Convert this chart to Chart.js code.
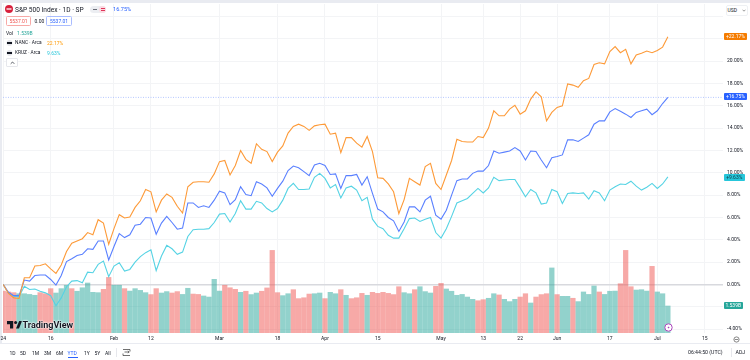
<!DOCTYPE html>
<html><head><meta charset="utf-8">
<script src="https://cdn.jsdelivr.net/npm/chart.js@4"></script>
<style>
html,body{margin:0;padding:0;background:#fff;overflow:hidden}
#wrap{position:relative;width:750px;height:360px;font-family:Roboto,"Liberation Sans",sans-serif;color:#131722;filter:blur(.3px)}
canvas{position:absolute;left:0;top:0}
.t{position:absolute;white-space:nowrap;line-height:1;font-size:5px;transform:translateY(-50%)}
.b{position:absolute;box-sizing:border-box}
.badge{position:absolute;left:724px;height:7px;line-height:7px;font-size:5px;text-align:center;border-radius:1px;color:#fff}
</style></head><body>
<div id="wrap">
<div class="b" style="left:0;top:0;width:750px;height:3px;background:#e9ebf1"></div>
<div class="b" style="left:0;top:0;width:2px;height:343px;background:#e9ebf1"></div>
<div class="b" style="left:0;top:343px;width:750px;height:1px;background:#e9ebf1"></div>
<canvas id="c" width="750" height="360"></canvas>

<svg class="b" style="left:5px;top:5px" width="8" height="8"><circle cx="4" cy="4" r="4" fill="#d8203c"/><rect x="1.5" y="3.2" width="5" height="1.6" fill="#fff" opacity=".8"/></svg>
<div class="t" style="left:15px;top:9.5px;font-size:6.6px">S&amp;P 500 Index · 1D · SP</div>
<div class="b" style="left:90px;top:6px;width:16px;height:7px;border-radius:3.5px;background:#eceef2"></div>
<div class="b" style="left:99px;top:6px;width:7px;height:7px;border-radius:3.5px;background:#fbdbe2"></div>
<div class="b" style="left:93px;top:9px;width:4px;height:1px;background:#6a6d78"></div>
<div class="b" style="left:100.5px;top:8px;width:4px;height:3px;border-top:1px solid #e0365a;border-bottom:1px solid #e0365a"></div>
<div class="t" style="left:113px;top:9.5px;font-size:5.6px;color:#2962ff">16.75%</div>

<div class="b" style="left:6px;top:16px;width:25px;height:10px;border:1px solid #f7a9a7;border-radius:1.5px"></div>
<div class="t" style="left:9.5px;top:21px;color:#ef5350">5537.01</div>
<div class="t" style="left:34.5px;top:21px">0.00</div>
<div class="b" style="left:46px;top:16px;width:26px;height:10px;border:1px solid #a9bcff;border-radius:1.5px"></div>
<div class="t" style="left:50px;top:21px;color:#2962ff">5537.01</div>

<div class="t" style="left:6px;top:32.5px">Vol</div>
<div class="t" style="left:17px;top:32.5px;color:#26a69a">1.539B</div>

<svg class="b" style="left:6px;top:39.5px" width="7" height="6"><circle cx="3.5" cy="3" r="3" fill="#e6e7ec"/><rect x="1" y="2" width="5" height="2" fill="#131722"/></svg>
<div class="t" style="left:15px;top:42.5px;font-size:4.8px">NANC · Arca</div>
<div class="t" style="left:47px;top:42.5px;color:#ff9800">22.17%</div>
<svg class="b" style="left:6px;top:49.5px" width="7" height="6"><circle cx="3.5" cy="3" r="3" fill="#e6e7ec"/><rect x="1" y="2" width="5" height="2" fill="#131722"/></svg>
<div class="t" style="left:15px;top:52.5px;font-size:4.8px">KRUZ · Arca</div>
<div class="t" style="left:47px;top:52.5px;color:#26c6da">9.63%</div>
<div class="b" style="left:6px;top:58px;width:12px;height:9px;border:1px solid #e6e7ec;background:#fff;border-radius:1px"></div>
<svg class="b" style="left:9.5px;top:60.5px" width="5" height="4"><path d="M.7 2.8 2.5 1 4.3 2.8" fill="none" stroke="#131722" stroke-width=".7"/></svg>

<div class="b" style="left:725.5px;top:5px;width:22px;height:10.5px;background:#fff;border:1px solid #eef0f3;border-radius:2px"></div>
<div class="t" style="left:727.5px;top:10.3px">USD</div>
<svg class="b" style="left:742px;top:8.5px" width="4" height="3"><path d="M.5 .7 2 2.2 3.5 .7" fill="none" stroke="#555" stroke-width=".6"/></svg>

<div class="badge" style="top:32.5px;width:23px;background:#f57c00">+22.17%</div>
<div class="badge" style="top:93px;width:23px;background:#2962ff">+16.75%</div>
<div class="badge" style="top:173.5px;width:20.5px;background:#26c6da;color:#0f3b44">+9.63%</div>
<div class="badge" style="top:302px;width:18.5px;background:#26a69a">1.539B</div>

<svg class="b" style="left:6.5px;top:320.5px" width="15" height="8"><path d="M0 0h6.2v7.6H3V3.2H0zM12.2 0h2.8l-3 7.6H9z" fill="#131722"/><circle cx="8.6" cy="1.6" r="1.5" fill="#131722"/></svg>
<div class="t" style="left:22.5px;top:324.5px;font-size:9px;font-weight:700;text-shadow:0 0 1.5px #fff,0 0 1.5px #fff,0 0 2px #fff">TradingView</div>

<svg class="b" style="left:664px;top:323px" width="9" height="9"><circle cx="4.5" cy="4.5" r="3.7" fill="#fff" stroke="#ab47bc" stroke-width="1"/><path d="M5.2 2.4 3.4 4.9H4.6L3.9 6.6 5.7 4H4.5z" fill="#ab47bc"/></svg>
<svg class="b" style="left:733px;top:336px" width="7" height="7"><circle cx="3.5" cy="3.5" r="2.6" fill="none" stroke="#555" stroke-width=".7"/><path d="M1.8 3.5h3.4" stroke="#555" stroke-width=".7"/></svg>

<div class="t" style="left:9.5px;top:352.5px">1D</div>
<div class="t" style="left:20px;top:352.5px">5D</div>
<div class="t" style="left:32px;top:352.5px">1M</div>
<div class="t" style="left:44px;top:352.5px">3M</div>
<div class="t" style="left:56px;top:352.5px">6M</div>
<div class="t" style="left:67.5px;top:352.5px;color:#2962ff">YTD</div>
<div class="b" style="left:67.5px;top:357px;width:10px;height:1px;background:#2962ff"></div>
<div class="t" style="left:84px;top:352.5px">1Y</div>
<div class="t" style="left:94.5px;top:352.5px">5Y</div>
<div class="t" style="left:105px;top:352.5px">All</div>
<div class="b" style="left:116px;top:348px;width:1px;height:9px;background:#e6e7ec"></div>
<svg class="b" style="left:122px;top:348px" width="9" height="9"><path d="M1 1.5h7v2M8 7.5H1v-2M2.5 4H7M6 2.8 7.2 4 6 5.2" fill="none" stroke="#333" stroke-width=".7"/></svg>
<div class="t" style="left:688px;top:352.5px;font-size:5.2px">06:44:50 (UTC)</div>
<div class="b" style="left:731px;top:348px;width:1px;height:9px;background:#e6e7ec"></div>
<div class="t" style="left:735.5px;top:352.5px;font-size:5.2px">ADJ</div>
</div>
<script>
const sp500 = [0,-0.7,-1.0,-1.0,0.4,0.3,0.8,0.85,0.85,0.45,
-0.05,0.8,2.05,2.3,2.6,2.7,3.2,3.15,3.9,3.9,
2.2,3.4,4.55,4.2,4.45,5.3,5.4,6.0,5.95,4.5,
5.5,6.1,5.55,4.95,5.05,7.3,7.3,6.9,7.05,6.9,
7.55,8.35,8.2,7.15,7.6,8.75,8.05,7.95,9.2,9.0,
8.65,7.9,8.6,9.25,10.2,10.6,10.45,10.1,9.75,10.7,
10.85,10.65,9.85,9.9,8.6,9.75,9.75,9.85,8.9,9.65,
8.15,6.75,6.5,6.0,5.7,4.75,5.6,6.95,6.95,6.5,
7.55,7.9,6.2,5.85,6.65,8.0,9.3,9.45,9.45,9.95,
10.15,10.15,10.65,11.95,11.75,11.85,11.95,12.25,11.95,11.15,
11.95,11.9,11.15,10.45,11.35,11.45,11.6,12.95,12.95,12.8,
13.1,13.4,14.35,14.65,14.65,15.45,15.75,15.5,15.25,14.95,
15.4,15.55,15.7,15.2,15.55,16.2,16.75];
const nanc = [0,-0.8,-1.2,-1.25,0.6,0.6,1.65,1.7,1.85,1.4,
1.0,1.75,2.95,3.7,3.9,4.1,4.65,4.45,5.8,5.5,
3.6,5.0,6.25,5.95,6.05,6.9,7.5,8.5,8.3,6.5,
7.55,8.1,7.8,7.0,6.4,8.75,9.15,9.2,9.2,9.15,
9.9,11.0,11.1,9.8,10.65,12.0,11.2,10.85,12.6,12.1,
11.9,11.0,11.85,12.4,13.55,14.15,14.35,14.15,13.8,14.2,
14.3,14.35,13.45,13.55,11.8,13.15,13.15,12.65,12.3,13.25,
11.9,9.55,9.5,9.0,8.3,6.35,7.6,9.5,9.2,8.9,
10.55,10.85,9.05,8.5,9.8,11.1,13.0,12.8,12.75,12.75,
13.25,13.15,14.0,15.55,15.1,15.1,15.7,16.05,15.25,15.55,
16.6,17.25,16.8,14.65,15.4,15.85,16.0,17.95,17.85,17.65,
18.25,18.45,19.7,19.85,19.75,20.85,21.3,20.75,21.05,19.75,
20.55,20.7,20.9,20.75,20.95,21.25,22.17];
const kruz = [0,-0.8,-1.05,-1.1,-0.15,-0.45,-0.4,-0.6,-0.75,-1.0,
-1.9,-1.2,-0.2,0.3,0.35,0.15,1.1,1.05,1.8,2.1,
0.7,1.65,1.95,1.2,1.35,2.0,2.5,2.85,3.1,1.25,
2.55,3.5,3.2,2.7,2.9,4.3,4.9,4.95,4.95,5.0,
5.55,6.3,6.35,5.6,6.35,7.5,6.75,6.75,7.45,7.3,
6.8,6.5,6.8,7.55,8.6,9.05,8.5,8.5,8.55,9.6,
9.95,9.5,8.65,8.95,7.75,8.65,8.8,8.45,7.5,7.8,
5.85,5.2,5.0,4.4,4.15,4.15,5.0,5.9,5.95,5.65,
5.85,6.0,4.65,4.15,5.0,6.1,7.3,7.5,7.7,8.15,
8.6,8.2,8.65,9.6,9.3,9.35,9.4,9.4,8.65,7.85,
8.5,8.2,7.2,7.3,8.5,8.3,7.25,8.15,8.2,8.15,
8.2,7.65,8.4,8.2,7.5,8.45,8.75,9.0,8.95,9.25,
8.8,8.45,8.7,9.05,8.6,9.0,9.63];
const volume = [2.39,2.34,2.30,2.24,2.24,2.20,2.15,2.30,2.24,2.53,
2.28,2.53,2.72,2.53,2.38,2.58,2.85,2.32,2.30,2.49,
3.17,2.72,2.72,2.53,2.39,2.53,2.43,2.30,2.19,2.53,
2.28,2.36,2.28,2.36,2.20,2.55,2.22,2.20,2.11,2.05,
3.06,2.39,2.72,2.58,2.49,2.32,2.38,2.19,2.28,2.38,
2.57,4.71,2.30,2.13,2.24,2.47,1.96,2.01,2.22,2.24,
2.28,1.96,2.32,2.24,2.47,2.15,1.96,2.01,2.26,2.15,
2.32,2.26,2.32,2.26,2.19,2.64,2.30,2.24,2.47,2.64,
2.36,2.28,2.66,2.83,2.51,2.38,2.15,2.20,2.05,1.92,
1.84,1.90,1.98,2.24,2.17,1.92,1.79,1.92,2.05,2.24,
1.71,2.05,2.19,2.24,3.71,2.19,2.09,2.09,1.98,1.79,
2.34,2.20,2.68,2.34,2.20,2.38,2.39,2.81,4.71,2.64,
2.45,2.47,2.39,3.80,2.34,2.24,1.54];
const downDays = [0,1,2,7,8,9,13,19,20,23,28,29,32,33,36,37,42,43,44,46,49,50,51,52,55,56,57,58,61,64,66,67,68,70,71,72,73,74,75,78,82,83,90,91,94,98,99,101,102,103,105,108,113,117,118,119,123];
const dayTicks = [0,9,21,28,41,52,61,71,83,91,98,105,115,124,133];
const dayLabels = ['24','16','Feb','12','Mar','18','Apr','15','May','13','22','Jun','17','Jul','15'];
const pctTicks = [-4,-2,0,2,4,6,8,10,12,14,16,18,20,22,24];
const hiddenPctLabels = [-2,22,24];
const lastClose = 16.75;

const xMin = -0.04, xMax = 136.45;
const pts = a => a.map((y,x)=>({x,y}));
const FONT = {family:'Roboto, "Liberation Sans", sans-serif', size:5};
new Chart(document.getElementById('c'),{
  data:{datasets:[
    {type:'line',data:[{x:xMin,y:lastClose},{x:xMax,y:lastClose}],borderColor:'#b4c6ff',borderWidth:1,borderDash:[1,1.5],pointRadius:0,yAxisID:'y',order:4},
    {type:'line',data:pts(kruz),borderColor:'#55d3e4',borderWidth:1.1,pointRadius:0,tension:0,yAxisID:'y',order:3},
    {type:'line',data:pts(sp500),borderColor:'#5a80ff',borderWidth:1.1,pointRadius:0,tension:0,yAxisID:'y',order:2},
    {type:'line',data:pts(nanc),borderColor:'#fd9a38',borderWidth:1.1,pointRadius:0,tension:0,yAxisID:'y',order:1},
    {type:'bar',data:pts(volume),backgroundColor:volume.map((v,i)=>downDays.includes(i)?'rgba(239,83,80,.5)':'rgba(38,166,154,.5)'),barThickness:4.6,yAxisID:'v',order:5}
  ]},
  options:{
    responsive:false,animation:false,devicePixelRatio:1,
    events:[],
    layout:{padding:{left:3,top:4,right:0,bottom:17}},
    plugins:{legend:{display:false},tooltip:{enabled:false}},
    scales:{
      x:{type:'linear',offset:false,min:xMin,max:xMax,
        afterBuildTicks:s=>{s.ticks=dayTicks.map(value=>({value}))},
        afterFit:s=>{s.height=10;s.paddingLeft=0;s.paddingRight=0},
        border:{display:false},
        grid:{offset:false,color:'#f3f4f6',lineWidth:1,drawTicks:false},
        ticks:{autoSkip:false,maxRotation:0,padding:3,color:'#131722',font:FONT,
          callback:v=>dayLabels[dayTicks.indexOf(v)]}},
      y:{type:'linear',position:'right',min:-4.342,max:25.11,
        afterBuildTicks:s=>{s.ticks=pctTicks.map(value=>({value}))},
        afterFit:s=>{s.width=27;s.paddingTop=0;s.paddingBottom=0},
        border:{display:false},
        grid:{color:c=>c.tick&&c.tick.value===0?'#d8d9de':'#f3f4f6',lineWidth:c=>c.tick&&c.tick.value===0?1.5:1,drawTicks:false},
        ticks:{padding:4,color:'#131722',font:FONT,
          callback:v=>hiddenPctLabels.includes(v)?'':v.toFixed(2)+'%'}},
      v:{type:'linear',display:false,min:0,max:18.76}
    }
  }
});
</script>
</body></html>
